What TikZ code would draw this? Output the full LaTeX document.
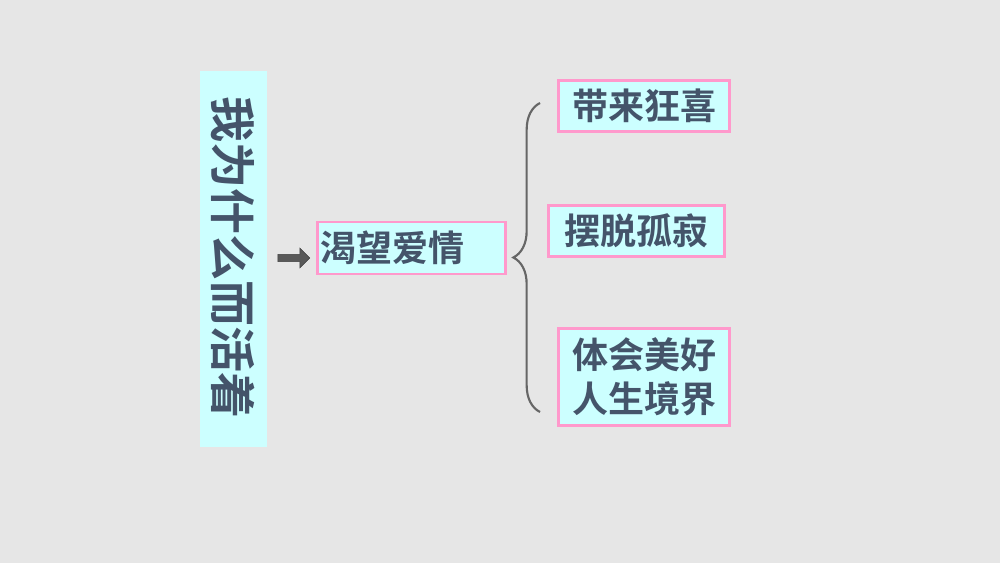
\documentclass[tikz,border=0pt]{standalone}
\usepackage{fontspec}
\setmainfont{Noto Sans CJK SC Bold}
\usetikzlibrary{shapes.arrows,decorations.pathreplacing}
\definecolor{bgray}{HTML}{E6E6E6}
\definecolor{boxcyan}{HTML}{CCFFFF}
\definecolor{boxpink}{HTML}{FF99CC}
\definecolor{txt}{HTML}{44546A}
\tikzset{
  leaf/.style={draw=boxpink,line width=2.2pt,fill=boxcyan,inner sep=0pt,
    text=txt,font=\fontsize{27}{33}\selectfont,align=center},
}
\begin{document}
\begin{tikzpicture}[x=0.75pt,y=0.75pt,yscale=-1,xscale=1]
\fill[bgray] (0,0) rectangle (1000,563);
% title column
\fill[boxcyan] (200,71) rectangle (267,447);
\node (title) [rotate=-90,inner sep=0pt,text=txt,font=\fontsize{34.5}{40}\selectfont]
  at (233.5,258) {我为什么而活着};
\node (arr) [single arrow,fill=black!65,draw=black!75,minimum height=24pt,
  minimum width=15pt,single arrow head extend=3pt,inner sep=1.5pt] at (292,258) {};
% middle
\node (love) [leaf,minimum width=141pt,minimum height=39pt,text width=136pt,align=left]
  at (411.5,248) {渴望爱情};
% brace
\coordinate (bt) at (540,103);
\coordinate (bb) at (540,412);
\draw[black!60,line width=1.6pt,decorate,decoration={brace,amplitude=20pt,mirror}]
  (bt) -- (bb);
% leaves
\node (joy) [leaf,minimum width=128pt,minimum height=38pt] at (644,106) {带来狂喜};
\node (lone) [leaf,minimum width=132pt,minimum height=38pt] at (636.5,231) {摆脱孤寂};
\node (life) [leaf,minimum width=128pt,minimum height=73pt] at (644,377)
  {体会美好\\人生境界};
\end{tikzpicture}
\end{document}
